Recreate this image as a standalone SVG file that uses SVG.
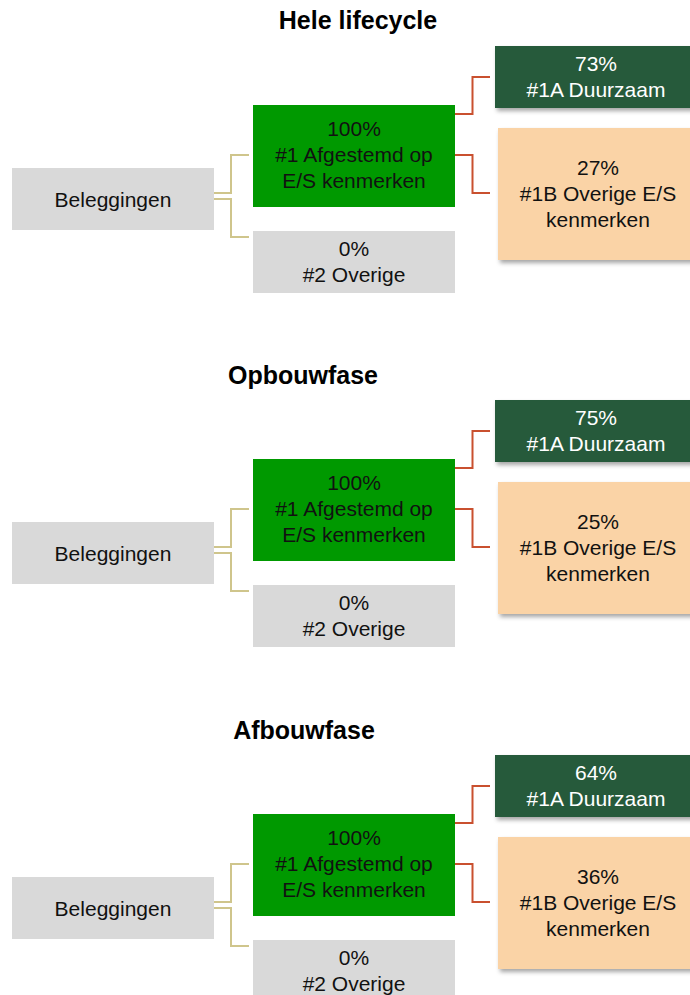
<svg xmlns="http://www.w3.org/2000/svg" width="690" height="995" viewBox="0 0 690 995">
<defs>
<filter id="sh" x="-10%" y="-20%" width="130%" height="150%">
<feDropShadow dx="2" dy="3" stdDeviation="2" flood-color="#000" flood-opacity="0.35"/>
</filter>
<style>
text{font-family:"Liberation Sans",Arial,sans-serif;font-size:21px;text-anchor:middle;fill:#111}
.title{font-weight:bold;font-size:25px;fill:#000}
.grey{fill:#D9D9D9}
.green{fill:#009900}
.dark{fill:#265A3A;filter:url(#sh)}
.peach{fill:#FAD3A6;filter:url(#sh)}
.w{fill:#fff}
.tan{fill:none;stroke:#CFC58C;stroke-width:2}
.red{fill:none;stroke:#C9502F;stroke-width:2}
</style>
</defs>
<rect width="690" height="995" fill="#fff"/>

<!-- Section 1 -->
<g id="sec1">
<text class="title" x="358" y="29">Hele lifecycle</text>
<g id="s1-connectors">
<path class="tan" d="M214,193 H231 V155 H249"/>
<path class="tan" d="M214,199 H231 V237 H249"/>
<path class="red" d="M455,114 H472.5 V77 H490"/>
<path class="red" d="M455,155 H472.5 V193 H490"/>
</g>
<g id="s1-beleggingen"><rect class="grey" x="12" y="168" width="202" height="62"/><text x="113" y="207">Beleggingen</text></g>
<g id="s1-afgestemd"><rect class="green" x="253" y="105" width="202" height="102"/><text x="354" y="136">100%</text><text x="354" y="162">#1 Afgestemd op</text><text x="354" y="188">E/S kenmerken</text></g>
<g id="s1-overige"><rect class="grey" x="253" y="231" width="202" height="62"/><text x="354" y="256">0%</text><text x="354" y="282">#2 Overige</text></g>
<g id="s1-duurzaam"><rect class="dark" x="495" y="46" width="202" height="62"/><text class="w" x="596" y="71">73%</text><text class="w" x="596" y="97">#1A Duurzaam</text></g>
<g id="s1-overige-es"><rect class="peach" x="498" y="128" width="202" height="132"/><text x="598" y="175">27%</text><text x="598" y="201">#1B Overige E/S</text><text x="598" y="227">kenmerken</text></g>
</g>

<!-- Section 2 -->
<g id="sec2" transform="translate(0,354)">
<text class="title" x="303" y="30">Opbouwfase</text>
<g id="s2-connectors">
<path class="tan" d="M214,193 H231 V155 H249"/>
<path class="tan" d="M214,199 H231 V237 H249"/>
<path class="red" d="M455,114 H472.5 V77 H490"/>
<path class="red" d="M455,155 H472.5 V193 H490"/>
</g>
<g id="s2-beleggingen"><rect class="grey" x="12" y="168" width="202" height="62"/><text x="113" y="207">Beleggingen</text></g>
<g id="s2-afgestemd"><rect class="green" x="253" y="105" width="202" height="102"/><text x="354" y="136">100%</text><text x="354" y="162">#1 Afgestemd op</text><text x="354" y="188">E/S kenmerken</text></g>
<g id="s2-overige"><rect class="grey" x="253" y="231" width="202" height="62"/><text x="354" y="256">0%</text><text x="354" y="282">#2 Overige</text></g>
<g id="s2-duurzaam"><rect class="dark" x="495" y="46" width="202" height="62"/><text class="w" x="596" y="71">75%</text><text class="w" x="596" y="97">#1A Duurzaam</text></g>
<g id="s2-overige-es"><rect class="peach" x="498" y="128" width="202" height="132"/><text x="598" y="175">25%</text><text x="598" y="201">#1B Overige E/S</text><text x="598" y="227">kenmerken</text></g>
</g>

<!-- Section 3 -->
<g id="sec3" transform="translate(0,709)">
<text class="title" x="304" y="30">Afbouwfase</text>
<g id="s3-connectors">
<path class="tan" d="M214,193 H231 V155 H249"/>
<path class="tan" d="M214,199 H231 V237 H249"/>
<path class="red" d="M455,114 H472.5 V77 H490"/>
<path class="red" d="M455,155 H472.5 V193 H490"/>
</g>
<g id="s3-beleggingen"><rect class="grey" x="12" y="168" width="202" height="62"/><text x="113" y="207">Beleggingen</text></g>
<g id="s3-afgestemd"><rect class="green" x="253" y="105" width="202" height="102"/><text x="354" y="136">100%</text><text x="354" y="162">#1 Afgestemd op</text><text x="354" y="188">E/S kenmerken</text></g>
<g id="s3-overige"><rect class="grey" x="253" y="231" width="202" height="62"/><text x="354" y="256">0%</text><text x="354" y="282">#2 Overige</text></g>
<g id="s3-duurzaam"><rect class="dark" x="495" y="46" width="202" height="62"/><text class="w" x="596" y="71">64%</text><text class="w" x="596" y="97">#1A Duurzaam</text></g>
<g id="s3-overige-es"><rect class="peach" x="498" y="128" width="202" height="132"/><text x="598" y="175">36%</text><text x="598" y="201">#1B Overige E/S</text><text x="598" y="227">kenmerken</text></g>
</g>
</svg>
